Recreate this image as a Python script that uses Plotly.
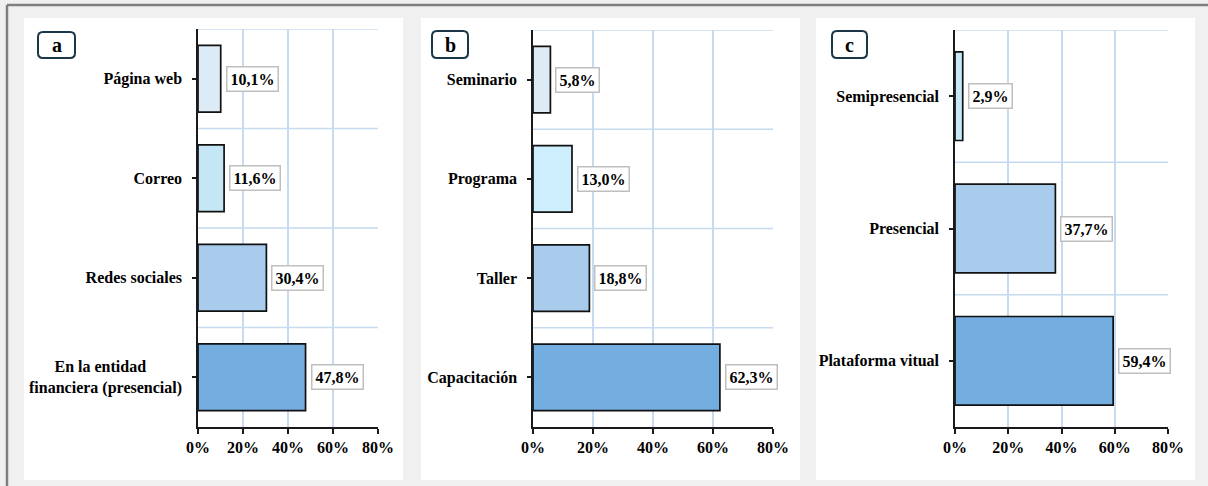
import plotly.graph_objects as go

# ---------------- data ----------------
cats_a = ["Página web", "Correo", "Redes sociales",
          "En la entidad" + "\u00a0" * 9 + "<br>financiera (presencial)"]
vals_a = [10.1, 11.6, 30.4, 47.8]
cols_a = ["#ddebf7", "#c5e6f5", "#a9cbec", "#74ade0"]

cats_b = ["Seminario", "Programa", "Taller", "Capacitación"]
vals_b = [5.8, 13.0, 18.8, 62.3]
cols_b = ["#ddebf7", "#cdeefd", "#a9cbec", "#74ade0"]

cats_c = ["Semipresencial", "Presencial", "Plataforma vitual"]
vals_c = [2.9, 37.7, 59.4]
cols_c = ["#c9e9f8", "#a9cbec", "#74ade0"]

panel_letters = ["a", "b", "c"]
x_ticks = [0, 20, 40, 60, 80]
x_ticklabels = ["0%", "20%", "40%", "60%", "80%"]

# ---------------- layout helpers ----------------
W, H = 1208, 486
def fx(x): return x / W
def fy(y): return 1 - y / H

FONT = "Liberation Serif, Times New Roman, serif"
GRID = "#c6daf0"
FS = 16

panels = [
    dict(cats=cats_a, vals=vals_a, cols=cols_a, plot=(198, 378, 29, 427),
         white=(24, 403, 18, 480), box=(38, 75, 32, 58)),
    dict(cats=cats_b, vals=vals_b, cols=cols_b, plot=(533, 773, 30, 427),
         white=(421, 800, 18, 480), box=(432, 468, 31, 58)),
    dict(cats=cats_c, vals=vals_c, cols=cols_c, plot=(955, 1168, 30, 427),
         white=(816, 1195, 18, 480), box=(832, 867, 31, 58)),
]

fig = go.Figure()
shapes = []
annotations = []

# outer border
shapes.append(dict(type="line", xref="paper", yref="paper", x0=fx(7), x1=1.0,
                   y0=fy(5), y1=fy(5), line=dict(color="#7f7f7f", width=2.5), layer="below"))
shapes.append(dict(type="line", xref="paper", yref="paper", x0=fx(7), x1=fx(7),
                   y0=fy(5), y1=0.0, line=dict(color="#7f7f7f", width=2.5), layer="below"))

def rounded_path(x0, x1, y0, y1, r=5):
    X0, X1 = fx(x0), fx(x1)
    Y0, Y1 = fy(y0), fy(y1)  # Y0 top, Y1 bottom
    rx, ry = r / W, r / H
    return (f"M {X0+rx},{Y0} L {X1-rx},{Y0} Q {X1},{Y0} {X1},{Y0-ry} "
            f"L {X1},{Y1+ry} Q {X1},{Y1} {X1-rx},{Y1} "
            f"L {X0+rx},{Y1} Q {X0},{Y1} {X0},{Y1+ry} "
            f"L {X0},{Y0-ry} Q {X0},{Y0} {X0+rx},{Y0} Z")

for i, p in enumerate(panels):
    n = i + 1
    xa = "x" if n == 1 else f"x{n}"
    ya = "y" if n == 1 else f"y{n}"
    xl, xr, yt, yb = p["plot"]

    # white panel
    wx0, wx1, wy0, wy1 = p["white"]
    shapes.append(dict(type="rect", xref="paper", yref="paper", x0=fx(wx0), x1=fx(wx1),
                       y0=fy(wy1), y1=fy(wy0), fillcolor="white", line=dict(width=0),
                       layer="below"))
    # letter box
    bx0, bx1, by0, by1 = p["box"]
    shapes.append(dict(type="path", xref="paper", yref="paper",
                       path=rounded_path(bx0, bx1, by0, by1),
                       fillcolor="white", line=dict(color="#1b3646", width=2)))
    annotations.append(dict(xref="paper", yref="paper", x=fx((bx0 + bx1) / 2),
                            y=fy((by0 + by1) / 2), text=panel_letters[i], showarrow=False,
                            xanchor="center", yanchor="middle",
                            font=dict(family=FONT, size=20, color="black", weight="bold")))

    fig.add_trace(go.Bar(
        x=p["vals"], y=p["cats"], orientation="h", width=0.67,
        marker=dict(color=p["cols"], line=dict(color="#111111", width=1.7)),
        xaxis=xa, yaxis=ya, showlegend=False, hoverinfo="skip"))

    ncat = len(p["cats"])
    # horizontal gridlines at category boundaries
    for k in range(ncat):
        shapes.append(dict(type="line", xref=f"{xa} domain", yref=ya, x0=0, x1=1,
                           y0=k - 0.5, y1=k - 0.5, line=dict(color=GRID, width=1.5),
                           layer="below"))
    # data labels
    for c, v in zip(p["cats"], p["vals"]):
        annotations.append(dict(xref=xa, yref=ya, x=v, y=c, text=f"{v:.1f}".replace(".", ",") + "%",
                                showarrow=False, xanchor="left", yanchor="middle", xshift=5,
                                bgcolor="white", bordercolor="#bfbfbf", borderwidth=1.5,
                                borderpad=3,
                                font=dict(family=FONT, size=FS, color="black", weight="bold")))

    xdom = [fx(xl), fx(xr)]
    ydom = [fy(yb), fy(yt)]
    fig.layout[f"xaxis{'' if n == 1 else n}"] = dict(
        domain=xdom, anchor=ya, range=[0, 80], tickvals=x_ticks, ticktext=x_ticklabels,
        showgrid=True, gridcolor=GRID, gridwidth=1.5, zeroline=False, automargin=False,
        showline=True, linecolor="#1a1a1a", linewidth=1.5,
        ticks="outside", ticklen=5, tickcolor="#1a1a1a", tickwidth=1.5,
        tickfont=dict(family=FONT, size=FS, color="black", weight="bold"),
        fixedrange=True)
    fig.layout[f"yaxis{'' if n == 1 else n}"] = dict(
        domain=ydom, anchor=xa, type="category", range=[ncat - 0.5, -0.5],
        showgrid=False, zeroline=False, automargin=False,
        showline=True, linecolor="#1a1a1a", linewidth=1.5,
        ticks="outside", ticklen=4, tickcolor="#1a1a1a", tickwidth=1.5,
        ticklabelstandoff=7,
        tickfont=dict(family=FONT, size=FS, color="black", weight="bold"),
        fixedrange=True)

fig.update_layout(
    width=W, height=H, margin=dict(l=0, r=0, t=0, b=0, pad=0),
    paper_bgcolor="#f0f0f0", plot_bgcolor="rgba(0,0,0,0)",
    shapes=shapes, annotations=annotations, bargap=0.33,
)

fig.write_html("out.html", config={"displayModeBar": False})
